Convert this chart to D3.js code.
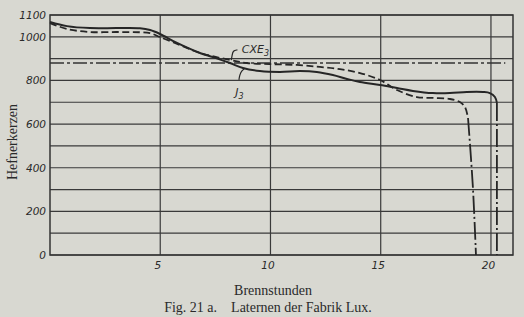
<!DOCTYPE html>
<html>
<head>
<meta charset="utf-8">
<script src="https://cdn.jsdelivr.net/npm/d3@7"></script>
<style>
  html, body { margin: 0; padding: 0; background: #d8d8d1; }
  svg { display: block; }
</style>
</head>
<body>
<svg id="chart"></svg>
<script>
// Brennstunden (h) / Hefnerkerzen
const j3Hours = [0, 0.77, 1.81, 3.04, 4.08, 4.54, 4.99, 5.76, 6.8, 7.39, 8.16, 8.75, 9.52, 10.43, 11.34, 12.1, 12.83, 13.47, 14.06, 14.97, 15.74, 16.46, 17.37, 18.14, 18.9, 19.64, 19.95, 20.18, 20.27];
const j3Values = [1068, 1049, 1040, 1040, 1039, 1031, 1013, 972, 926, 907, 880, 857, 843, 839, 843, 839, 825, 807, 793, 779, 765, 752, 742, 742, 747, 747, 742, 724, 697];
const j3DropHours = [20.27, 20.27];
const j3DropValues = [697, 0];

const cxeHours = [0, 0.77, 1.81, 3.04, 4.08, 4.54, 4.99, 5.9, 6.8, 8.16, 8.93, 9.98, 11.2, 12.24, 13.15, 14.06, 14.97, 15.74, 16.64, 17.37, 18.14, 18.59, 18.82, 18.96];
const cxeValues = [1063, 1036, 1022, 1022, 1021, 1017, 999, 962, 926, 894, 880, 875, 871, 862, 852, 834, 802, 756, 724, 720, 715, 701, 678, 628];
const cxeDropHours = [18.96, 19.18, 19.32];
const cxeDropValues = [628, 312, 0];

// 80 % line
const refValue = 880;
const refEndHour = 20.65;

const xTicks = [5, 10, 15, 20];
const yTicks = [0, 200, 400, 600, 800, 1000, 1100];
const yGrid = d3.range(0, 1101, 100);

const width = 524;
const height = 317;
const margin = { top: 15, right: 11, bottom: 62, left: 50 };

const svg = d3.select('#chart')
  .attr('width', width)
  .attr('height', height);

const x = d3.scaleLinear().domain([0, 21]).range([margin.left, width - margin.right]);
const y = d3.scaleLinear().domain([0, 1100]).range([height - margin.bottom, margin.top]);

const ink = '#262626';

// grid
svg.append('g')
  .selectAll('line')
  .data(yGrid)
  .enter().append('line')
  .attr('x1', x(0))
  .attr('x2', x(21))
  .attr('y1', d => y(d))
  .attr('y2', d => y(d))
  .style('stroke', '#3a3a3a')
  .style('stroke-width', 1.2);

svg.append('g')
  .selectAll('line')
  .data(xTicks)
  .enter().append('line')
  .attr('x1', d => x(d))
  .attr('x2', d => x(d))
  .attr('y1', y(0))
  .attr('y2', y(1100))
  .style('stroke', '#3a3a3a')
  .style('stroke-width', 1.2);

// frame
svg.append('rect')
  .attr('x', x(0))
  .attr('y', y(1100))
  .attr('width', x(21) - x(0))
  .attr('height', y(0) - y(1100))
  .style('fill', 'none')
  .style('stroke', '#333')
  .style('stroke-width', 1.5);

// axes (labels only)
const yAxis = d3.axisLeft(y).tickValues(yTicks).tickFormat(d3.format('d')).tickSize(0).tickPadding(4);
const xAxis = d3.axisBottom(x).tickValues(xTicks).tickFormat(d3.format('d')).tickSize(0).tickPadding(7);

svg.append('g')
  .attr('transform', `translate(${x(0)},0)`)
  .call(yAxis)
  .call(g => g.select('.domain').remove())
  .selectAll('text')
  .style('font-family', '"DejaVu Sans", sans-serif')
  .style('font-style', 'italic')
  .style('font-size', '10.5px')
  .style('fill', '#2a2a2a');

svg.append('g')
  .attr('transform', `translate(0,${y(0)})`)
  .call(xAxis)
  .call(g => g.select('.domain').remove())
  .selectAll('text')
  .attr('dx', '-3')
  .style('font-family', '"DejaVu Sans", sans-serif')
  .style('font-style', 'italic')
  .style('font-size', '10.5px')
  .style('fill', '#2a2a2a');

// reference line
svg.append('line')
  .attr('x1', x(0))
  .attr('x2', x(refEndHour))
  .attr('y1', y(refValue))
  .attr('y2', y(refValue))
  .style('stroke', '#333')
  .style('stroke-width', 1.5)
  .style('stroke-dasharray', '14,3,3,3');

// curves
const line = d3.line()
  .x(d => x(d[0]))
  .y(d => y(d[1]))
  .curve(d3.curveCatmullRom.alpha(0.5));

const zip = (a, b) => a.map((v, i) => [v, b[i]]);

svg.append('path')
  .datum(zip(cxeHours, cxeValues))
  .attr('d', line)
  .style('fill', 'none')
  .style('stroke', ink)
  .style('stroke-width', 1.8)
  .style('stroke-dasharray', '7,3.5');

svg.append('path')
  .datum(zip(cxeDropHours, cxeDropValues))
  .attr('d', line)
  .style('fill', 'none')
  .style('stroke', ink)
  .style('stroke-width', 1.8)
  .style('stroke-dasharray', '18,3,2,3');

svg.append('path')
  .datum(zip(j3Hours, j3Values))
  .attr('d', line)
  .style('fill', 'none')
  .style('stroke', ink)
  .style('stroke-width', 2);

svg.append('path')
  .datum(zip(j3DropHours, j3DropValues))
  .attr('d', line)
  .style('fill', 'none')
  .style('stroke', ink)
  .style('stroke-width', 1.8)
  .style('stroke-dasharray', '18,3,2,3');

// curve labels with leaders
const labelFont = '"DejaVu Sans", sans-serif';
const leader = d3.line().x(d => x(d[0])).y(d => y(d[1])).curve(d3.curveBasis);

svg.append('path')
  .datum([[8.5, 940], [8.3, 937], [8.26, 915], [8.22, 893]])
  .attr('d', leader)
  .style('fill', 'none')
  .style('stroke', ink)
  .style('stroke-width', 1.2);

const cxeLabel = svg.append('text')
  .attr('x', x(8.7))
  .attr('y', y(928))
  .style('font-family', labelFont)
  .style('font-style', 'italic')
  .style('font-size', '11px')
  .style('fill', '#2a2a2a')
  .text('CXE');
cxeLabel.append('tspan')
  .attr('dy', 3)
  .style('font-size', '8px')
  .text('3');

svg.append('path')
  .datum([[8.57, 803], [8.6, 825], [8.7, 845], [8.84, 856]])
  .attr('d', leader)
  .style('fill', 'none')
  .style('stroke', ink)
  .style('stroke-width', 1.2);

const j3Label = svg.append('text')
  .attr('x', x(8.4))
  .attr('y', y(727))
  .style('font-family', labelFont)
  .style('font-style', 'italic')
  .style('font-size', '11px')
  .style('fill', '#2a2a2a')
  .text('J');
j3Label.append('tspan')
  .attr('dy', 3)
  .style('font-size', '8px')
  .text('3');

// titles
const serif = '"Liberation Serif", "DejaVu Serif", serif';

svg.append('text')
  .attr('transform', `translate(17,${(y(0) + y(1100)) / 2 + 7}) rotate(-90)`)
  .attr('text-anchor', 'middle')
  .style('font-family', serif)
  .style('font-size', '14px')
  .style('fill', '#2a2a2a')
  .text('Hefnerkerzen');

svg.append('text')
  .attr('x', 273)
  .attr('y', 295)
  .attr('text-anchor', 'middle')
  .style('font-family', serif)
  .style('font-size', '14px')
  .style('fill', '#2a2a2a')
  .text('Brennstunden');

svg.append('text')
  .attr('x', 268)
  .attr('y', 312)
  .attr('text-anchor', 'middle')
  .style('font-family', serif)
  .style('font-size', '14px')
  .style('fill', '#2a2a2a')
  .style('white-space', 'pre')
  .text('Fig. 21 a.    Laternen der Fabrik Lux.');
</script>
</body>
</html>
